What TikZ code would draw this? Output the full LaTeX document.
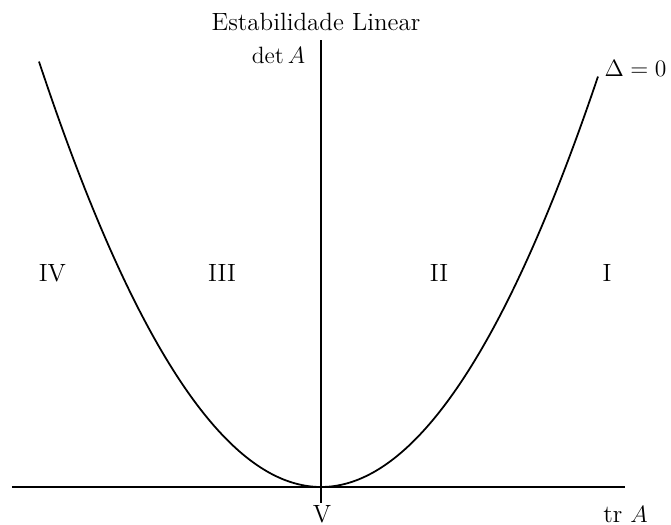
\documentclass[tikz,border=0pt]{standalone}
\usepackage{amsmath,amssymb}
\usetikzlibrary{calc}

\begin{document}
\begin{tikzpicture}[x=1.788cm,y=1.788cm,line width=0.9pt,
  every node/.style={font=\fontsize{12.7}{15}\selectfont}]
  \useasboundingbox (-3.21,-0.38) rectangle (3.50,4.87);
  % axes tr A (horizontal) and det A (vertical)
  \coordinate (trleft) at (-3.09,0);
  \coordinate (trright) at (3.04,0);
  \coordinate (detlow) at (0,-0.16);
  \coordinate (dettop) at (0,4.47);
  \draw (trleft) -- (trright);
  \draw (detlow) -- (dettop);
  \node[inner sep=0pt] (trlabel) at (3.045,-0.275) {tr $A$};
  \node (detlabel) at (-0.425,4.32) {$\det A$};
  \node (title) at (-0.05,4.65) {Estabilidade Linear};
  % Delta = 0 : det A = (tr A)^2/4 , scaled to the box
  \draw[domain=-2.82:2.77,samples=160] plot (\x,{0.535*\x*\x});
  \node (deltalabel) at (3.145,4.19) {$\Delta=0$};
  % regions
  \foreach \x/\l in {-2.685/IV,-0.99/III,1.18/II,2.86/I} \node (reg\l) at (\x,2.14) {\l};
  \node[inner sep=0pt] (regV) at (0.01,-0.275) {V};
\end{tikzpicture}
\end{document}
